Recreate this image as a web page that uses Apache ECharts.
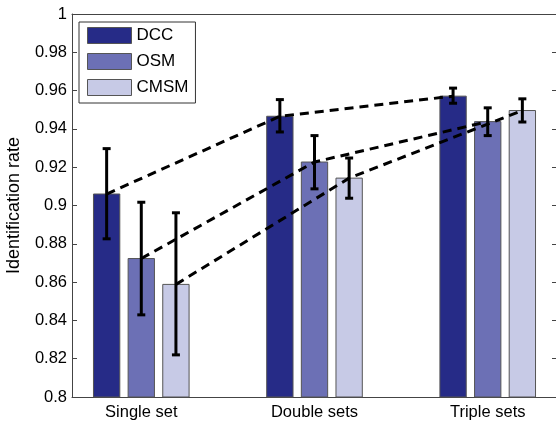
<!DOCTYPE html>
<html>
<head>
<meta charset="utf-8">
<script src="https://cdn.jsdelivr.net/npm/echarts@6/dist/echarts.min.js"></script>
<style>
  html, body { margin: 0; padding: 0; background: #fff; }
  #chart { width: 556px; height: 426px; }
</style>
</head>
<body>
<div id="chart"></div>
<script>
const categories = ["Single set", "Double sets", "Triple sets"]
const seriesNames = ["DCC", "OSM", "CMSM"]
const dccValues = [0.906, 0.9466, 0.9571]
const osmValues = [0.8723, 0.9227, 0.9438]
const cmsmValues = [0.8588, 0.9143, 0.9496]
const dccLow = [0.8826, 0.9384, 0.9534]
const dccHigh = [0.9297, 0.9553, 0.9613]
const osmLow = [0.8429, 0.9087, 0.9365]
const osmHigh = [0.9017, 0.9365, 0.951]
const cmsmLow = [0.822, 0.9038, 0.9436]
const cmsmHigh = [0.8962, 0.9248, 0.9557]
const yTicks = [0.8, 0.82, 0.84, 0.86, 0.88, 0.9, 0.92, 0.94, 0.96, 0.98, 1]

const colors = ["#262b87", "#6c70b5", "#c7cae6"]
const values = [dccValues, osmValues, cmsmValues]
const lows = [dccLow, osmLow, cmsmLow]
const highs = [dccHigh, osmHigh, cmsmHigh]
const offsets = [-0.2, 0, 0.2]
const barWidth = 0.152
const font = "Liberation Sans, Arial, sans-serif"

const chart = echarts.init(document.getElementById("chart"))

function barItem(params, api) {
  const x = api.value(0)
  const y = api.value(1)
  const p0 = api.coord([x - barWidth / 2, y])
  const p1 = api.coord([x + barWidth / 2, 0.8])
  return {
    type: "rect",
    shape: { x: p0[0], y: p0[1], width: p1[0] - p0[0], height: p1[1] - p0[1] },
    style: { fill: api.visual("color"), stroke: "#555", lineWidth: 1 },
  }
}

function errItem(params, api) {
  const x = api.value(0)
  const lo = api.coord([x, api.value(1)])
  const hi = api.coord([x, api.value(2)])
  const cap = 4
  const st = { stroke: "#000", lineWidth: 3 }
  return {
    type: "group",
    children: [
      { type: "line", shape: { x1: lo[0], y1: lo[1], x2: hi[0], y2: hi[1] }, style: st },
      { type: "line", shape: { x1: lo[0] - cap, y1: lo[1], x2: lo[0] + cap, y2: lo[1] }, style: st },
      { type: "line", shape: { x1: hi[0] - cap, y1: hi[1], x2: hi[0] + cap, y2: hi[1] }, style: st },
    ],
  }
}

const series = []
seriesNames.forEach((name, i) => {
  series.push({
    name,
    type: "custom",
    renderItem: barItem,
    itemStyle: { color: colors[i] },
    data: values[i].map((v, g) => [g + 1 + offsets[i], v]),
    z: 2,
  })
})
seriesNames.forEach((name, i) => {
  series.push({
    type: "line",
    data: values[i].map((v, g) => [g + 1 + offsets[i], v]),
    symbol: "none",
    lineStyle: { color: "#000", width: 3, type: [9, 6] },
    z: 3,
    silent: true,
  })
})
seriesNames.forEach((name, i) => {
  series.push({
    type: "custom",
    renderItem: errItem,
    data: values[i].map((v, g) => [g + 1 + offsets[i], lows[i][g], highs[i][g]]),
    z: 4,
  })
})

const axisLine = { show: true, lineStyle: { color: "#444", width: 1 } }
const tickStyle = { show: true, inside: true, length: 5, lineStyle: { color: "#444" } }

chart.setOption({
  animation: false,
  textStyle: { fontFamily: font },
  grid: { left: 72, top: 14, width: 485, height: 383, outerBoundsMode: "none" },
  legend: {
    data: seriesNames,
    orient: "vertical",
    left: 79,
    top: 22,
    padding: [5, 7, 7, 8],
    itemWidth: 44,
    itemHeight: 16,
    itemGap: 9,
    icon: "rect",
    borderColor: "#333",
    borderWidth: 1,
    backgroundColor: "#fff",
    itemStyle: { borderColor: "#555", borderWidth: 1 },
    textStyle: { fontSize: 17, color: "#000", fontFamily: font },
  },
  xAxis: [
    {
      type: "value",
      min: 0.6,
      max: 3.4,
      axisLine,
      axisTick: { show: false },
      splitLine: { show: false },
      axisLabel: {
        customValues: [1, 2, 3],
        formatter: (v) => categories[Math.round(v) - 1],
        fontSize: 16.5,
        color: "#000",
        margin: 7,
      },
    },
    {
      type: "value",
      position: "top",
      min: 0.6,
      max: 3.4,
      axisLine,
      axisTick: { show: false },
      axisLabel: { show: false },
      splitLine: { show: false },
    },
  ],
  yAxis: [
    {
      type: "value",
      min: 0.8,
      max: 1,
      interval: 0.02,
      name: "Identification rate",
      nameLocation: "middle",
      nameGap: 49,
      nameTextStyle: { fontSize: 18, color: "#000", fontFamily: font },
      axisLine,
      axisTick: tickStyle,
      splitLine: { show: false },
      axisLabel: {
        customValues: yTicks,
        formatter: (v) => String(+v.toFixed(2)),
        fontSize: 16.5,
        color: "#000",
        margin: 5,
      },
    },
    {
      type: "value",
      position: "right",
      min: 0.8,
      max: 1,
      interval: 0.02,
      axisLine,
      axisTick: tickStyle,
      axisLabel: { show: false },
      splitLine: { show: false },
    },
  ],
  series,
})
</script>
</body>
</html>
